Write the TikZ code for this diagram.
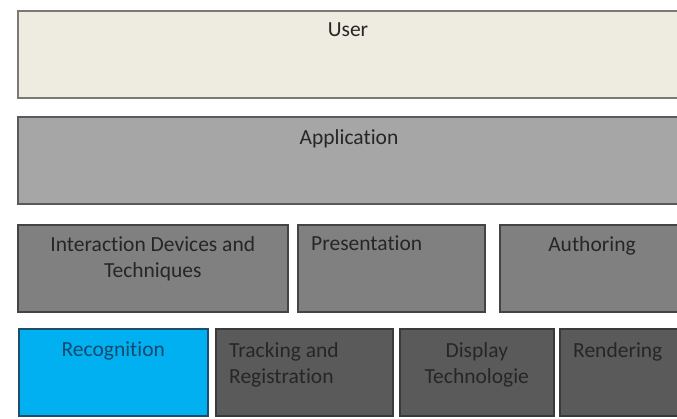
\documentclass[tikz,border=0pt]{standalone}
\usepackage{fontspec}
\setmainfont{Carlito}[Ligatures=NoCommon]
\usetikzlibrary{positioning}

\definecolor{userfill}{HTML}{EEEBE0}
\definecolor{userline}{HTML}{7A7A72}
\definecolor{appfill}{HTML}{A6A6A6}
\definecolor{appline}{HTML}{5A5A5A}
\definecolor{midfill}{HTML}{808080}
\definecolor{midline}{HTML}{444444}
\definecolor{lowfill}{HTML}{5A5A5A}
\definecolor{lowline}{HTML}{3A3A3A}
\definecolor{recfill}{HTML}{00B0F0}
\definecolor{recline}{HTML}{1F4E6A}
\definecolor{labgray}{HTML}{262626}
\definecolor{recfont}{HTML}{134A6E}

\tikzset{
	layer/.style={draw, line width=1.6pt, minimum height=87pt, inner sep=0pt, anchor=north west},
	layertext/.style={font=\fontsize{21.5}{26}\selectfont, text=labgray, inner sep=0pt, align=center, anchor=north},
	layertextleft/.style={layertext, align=left, anchor=north west}
}

\begin{document}
\begin{tikzpicture}[x=1pt,y=-1pt]
	\useasboundingbox (0,0) rectangle (677,419);
	\clip (0,0) rectangle (677,419);
	\fill[white] (0,0) rectangle (677,419);

	% top two layers
	\node[layer, fill=userfill, draw=userline, minimum width=673pt] at (17,10) (user) {};
	\node[layer, fill=appfill, draw=appline, minimum width=673pt] at (17,116) (app) {};
	\node[layertext] at ([yshift=-13pt]user.north -| 348,0) (userT) {User};
	\node[layertext] at ([yshift=-13pt]app.north -| 349,0) (appT) {Application};

	% third layer
	\node[layer, fill=midfill, draw=midline, minimum width=270pt] at (17,224) (interact) {};
	\node[layer, fill=midfill, draw=midline, minimum width=187pt, right=8.4pt of interact, anchor=west] (pres) {};
	\node[layer, fill=midfill, draw=midline, minimum width=200pt, right=13.4pt of pres, anchor=west] (author) {};
	\node[layertext] at ([yshift=-12pt]interact.north) (interactT) {Interaction Devices and\\Techniques};
	\node[layertextleft] at ([xshift=14pt, yshift=-12pt]pres.north west) (presT) {Presentation};
	\node[layertext] at ([yshift=-12pt]author.north -| 592,0) (authorT) {Authoring};

	% bottom layer
	\node[layer, fill=recfill, draw=recline, minimum width=189pt] at (18,328) (recog) {};
	\node[layer, fill=lowfill, draw=lowline, minimum width=177pt, right=6.4pt of recog, anchor=west] (track) {};
	\node[layer, fill=lowfill, draw=lowline, minimum width=154pt, right=5.4pt of track, anchor=west] (disp) {};
	\node[layer, fill=lowfill, draw=lowline, minimum width=140pt, right=4.4pt of disp, anchor=west] (render) {};
	\node[layertext, text=recfont] at ([yshift=-14pt]recog.north) (recogT) {Recognition};
	\node[layertextleft] at ([xshift=14pt, yshift=-14pt]track.north west) (trackT) {Tracking and\\Registration};
	\node[layertext] at ([yshift=-14pt]disp.north) (dispT) {Display\\Technologie};
	\node[layertextleft] at ([xshift=14pt, yshift=-14pt]render.north west) (renderT) {Rendering};
\end{tikzpicture}
\end{document}
